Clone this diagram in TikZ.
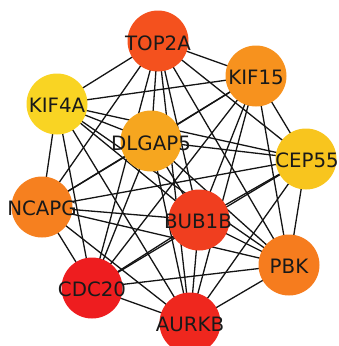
\documentclass[tikz,border=0pt]{standalone}
\usepackage{fontspec}
\setmainfont{DejaVu Sans}
\definecolor{cTOP}{HTML}{F4511E}
\definecolor{cKIFf}{HTML}{F7921E}
\definecolor{cKIFa}{HTML}{F9D423}
\definecolor{cDLG}{HTML}{F6A61F}
\definecolor{cCEP}{HTML}{F8C51E}
\definecolor{cNCA}{HTML}{F6801F}
\definecolor{cBUB}{HTML}{F03E1F}
\definecolor{cPBK}{HTML}{F67C1E}
\definecolor{cCDC}{HTML}{EE1D1F}
\definecolor{cAUR}{HTML}{EF271E}
\begin{document}
\begin{tikzpicture}[x=1pt,y=-1pt,
  gene/.style={circle,minimum size=61pt,inner sep=0pt,draw=none},
  lbl/.style={inner sep=0pt,text=black!90,font=\fontsize{19.8}{21}\selectfont},
  edge/.style={draw=black!92,line width=1.3pt}]
\useasboundingbox (0,0) rectangle (338,346);
\clip (0,0) rectangle (338,346);
% node positions
\coordinate (TOP2A) at (158,41);
\coordinate (KIF15) at (256,76);
\coordinate (KIF4A) at (57,104);
\coordinate (DLGAP5) at (151,141);
\coordinate (CEP55) at (306,159);
\coordinate (NCAPG) at (42,207);
\coordinate (BUB1B) at (199,220);
\coordinate (PBK) at (289,265);
\coordinate (CDC20) at (92,288);
\coordinate (AURKB) at (190,323);
% edges (complete graph)
\foreach \a/\rest in {TOP2A/{KIF15,KIF4A,DLGAP5,CEP55,NCAPG,BUB1B,PBK,CDC20,AURKB},
  KIF15/{KIF4A,DLGAP5,CEP55,NCAPG,BUB1B,PBK,CDC20,AURKB},
  KIF4A/{DLGAP5,CEP55,NCAPG,BUB1B,PBK,CDC20,AURKB},
  DLGAP5/{CEP55,NCAPG,BUB1B,PBK,CDC20,AURKB},
  CEP55/{NCAPG,BUB1B,PBK,CDC20,AURKB},
  NCAPG/{BUB1B,PBK,CDC20,AURKB},
  BUB1B/{PBK,CDC20,AURKB},
  PBK/{CDC20,AURKB},
  CDC20/{AURKB}}{
  \foreach \b in \rest { \draw[edge] (\a) -- (\b); }
}
% nodes
\node[gene,fill=cTOP] (nTOP2A) at (TOP2A) {};
\node[gene,fill=cKIFf] (nKIF15) at (KIF15) {};
\node[gene,fill=cKIFa] (nKIF4A) at (KIF4A) {};
\node[gene,fill=cDLG] (nDLGAP5) at (DLGAP5) {};
\node[gene,fill=cCEP] (nCEP55) at (CEP55) {};
\node[gene,fill=cNCA] (nNCAPG) at (NCAPG) {};
\node[gene,fill=cBUB] (nBUB1B) at (BUB1B) {};
\node[gene,fill=cPBK] (nPBK) at (PBK) {};
\node[gene,fill=cCDC] (nCDC20) at (CDC20) {};
\node[gene,fill=cAUR] (nAURKB) at (AURKB) {};
% labels
\node[lbl] (tTOP2A) at (158,43) {TOP2A};
\node[lbl] (tKIF15) at (256,77) {KIF15};
\node[lbl] (tKIF4A) at (57,105) {KIF4A};
\node[lbl] (tDLGAP5) at (151,143) {DLGAP5};
\node[lbl] (tCEP55) at (307,160) {CEP55};
\node[lbl] (tNCAPG) at (42,208) {NCAPG};
\node[lbl] (tBUB1B) at (198,221) {BUB1B};
\node[lbl] (tPBK) at (289,266) {PBK};
\node[lbl] (tCDC20) at (92,289) {CDC20};
\node[lbl] (tAURKB) at (190,324) {AURKB};
\end{tikzpicture}
\end{document}
